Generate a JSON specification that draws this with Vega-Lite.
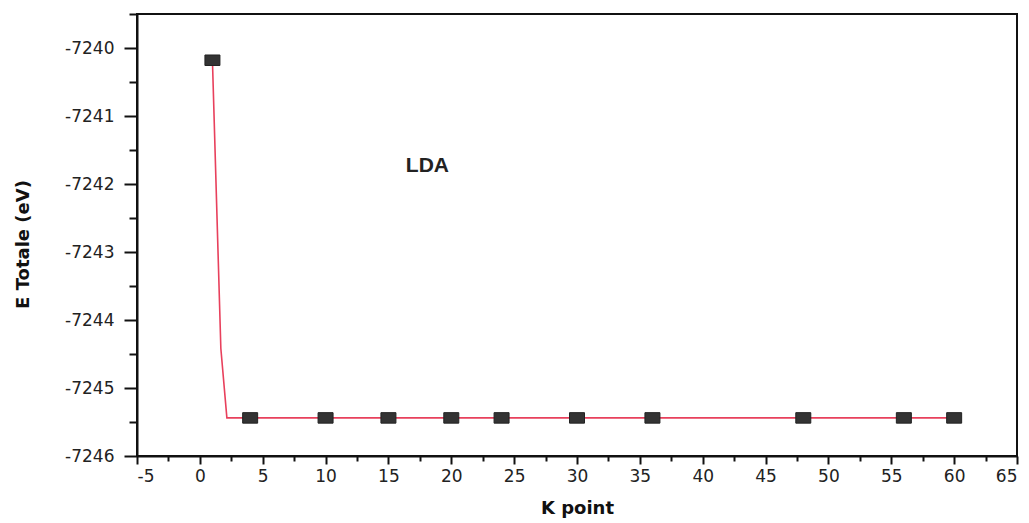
{
  "$schema": "https://vega.github.io/schema/vega-lite/v6.json",
  "width": 880,
  "height": 442,
  "autosize": "none",
  "padding": {"left": 137, "top": 14, "right": 12, "bottom": 67},
  "background": "white",
  "config": {
    "view": {"stroke": "#111", "strokeWidth": 2},
    "axis": {
      "domainColor": "#111",
      "domainWidth": 2,
      "tickColor": "#111",
      "tickWidth": 2,
      "labelColor": "#222",
      "labelFont": "DejaVu Sans",
      "labelFontSize": 17,
      "titleFont": "DejaVu Sans",
      "titleFontWeight": "bold",
      "titleColor": "#111",
      "grid": false
    }
  },
  "layer": [
    {
      "data": {"values": [
        {"k": 1, "e": -7240.18},
        {"k": 1.67, "e": -7244.42},
        {"k": 2.15, "e": -7245.44},
        {"k": 4, "e": -7245.44},
        {"k": 10, "e": -7245.44},
        {"k": 15, "e": -7245.44},
        {"k": 20, "e": -7245.44},
        {"k": 24, "e": -7245.44},
        {"k": 30, "e": -7245.44},
        {"k": 36, "e": -7245.44},
        {"k": 48, "e": -7245.44},
        {"k": 56, "e": -7245.44},
        {"k": 60, "e": -7245.44}
      ]},
      "mark": {"type": "line", "color": "#e8405c", "strokeWidth": 1.6},
      "encoding": {
        "x": {
          "field": "k", "type": "quantitative",
          "scale": {"domain": [-5, 65], "nice": false, "zero": false},
          "axis": {
            "orient": "bottom",
            "values": [-5, 0, 5, 10, 15, 20, 25, 30, 35, 40, 45, 50, 55, 60, 65],
            "labelExpr": "datum.value < 0 ? '-' + abs(datum.value) : '' + datum.value",
            "tickSize": 8,
            "labelPadding": 4,
            "title": "K point",
            "titleFontSize": 18,
            "titleBaseline": "middle",
            "titleY": 52
          }
        },
        "y": {
          "field": "e", "type": "quantitative",
          "scale": {"domain": [-7246, -7239.5], "nice": false, "zero": false},
          "axis": {
            "orient": "left",
            "values": [-7246, -7245, -7244, -7243, -7242, -7241, -7240],
            "labelExpr": "'-' + abs(datum.value)",
            "tickSize": 13,
            "labelPadding": 10,
            "title": "E Totale (eV)",
            "titleFontSize": 18,
            "titleBaseline": "middle",
            "titleX": -114,
            "titleY": 230
          }
        }
      }
    },
    {
      "data": {"values": [
        {"k": 1, "e": -7240.18},
        {"k": 4, "e": -7245.44},
        {"k": 10, "e": -7245.44},
        {"k": 15, "e": -7245.44},
        {"k": 20, "e": -7245.44},
        {"k": 24, "e": -7245.44},
        {"k": 30, "e": -7245.44},
        {"k": 36, "e": -7245.44},
        {"k": 48, "e": -7245.44},
        {"k": 56, "e": -7245.44},
        {"k": 60, "e": -7245.44}
      ]},
      "mark": {
        "type": "point",
        "shape": "M-1,-0.7L1,-0.7L1,0.7L-1,0.7Z",
        "size": 225,
        "filled": true,
        "color": "#333333",
        "opacity": 1,
        "stroke": "#222",
        "strokeWidth": 1
      },
      "encoding": {
        "x": {
          "field": "k", "type": "quantitative",
          "scale": {"domain": [-5, 65], "nice": false, "zero": false},
          "axis": {
            "orient": "bottom",
            "values": [-2.5, 2.5, 7.5, 12.5, 17.5, 22.5, 27.5, 32.5, 37.5, 42.5, 47.5, 52.5, 57.5, 62.5],
            "tickSize": 5,
            "labels": false,
            "domain": false,
            "title": null
          }
        },
        "y": {
          "field": "e", "type": "quantitative",
          "scale": {"domain": [-7246, -7239.5], "nice": false, "zero": false},
          "axis": {
            "orient": "left",
            "values": [-7245.5, -7244.5, -7243.5, -7242.5, -7241.5, -7240.5, -7239.5],
            "tickSize": 8,
            "labels": false,
            "domain": false,
            "title": null
          }
        }
      }
    },
    {
      "data": {"values": [{"label": "LDA", "k": 18.1, "e": -7241.74}]},
      "mark": {"type": "text", "font": "Liberation Sans", "fontWeight": "bold", "fontSize": 21, "color": "#222", "align": "center", "baseline": "middle"},
      "encoding": {
        "text": {"field": "label", "type": "nominal"},
        "x": {"field": "k", "type": "quantitative", "scale": {"domain": [-5, 65], "nice": false, "zero": false}, "axis": null},
        "y": {"field": "e", "type": "quantitative", "scale": {"domain": [-7246, -7239.5], "nice": false, "zero": false}, "axis": null}
      }
    }
  ],
  "resolve": {"axis": {"x": "independent", "y": "independent"}}
}
